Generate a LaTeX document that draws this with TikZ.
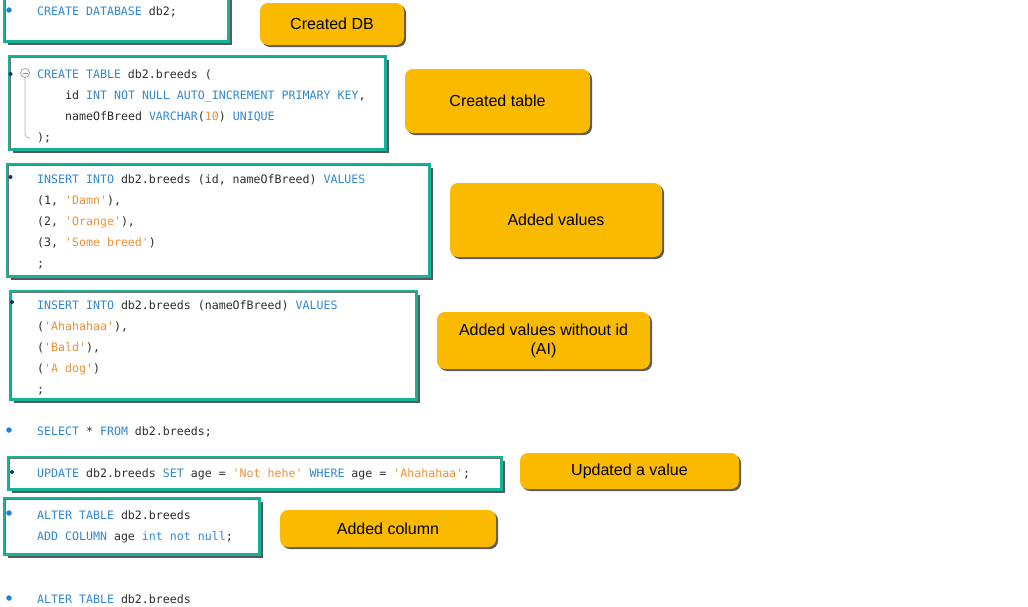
\documentclass[tikz,border=0pt]{standalone}
\usepackage{fontspec}
\setmainfont{Liberation Sans}
\newfontfamily\codefont[WordSpace={1,0,0},Ligatures=ResetAll]{DejaVu Sans Mono}
\usetikzlibrary{shadows}
\definecolor{tealbox}{RGB}{20,178,150}
\definecolor{ylw}{RGB}{249,186,0}
\definecolor{kw}{RGB}{50,136,206}
\definecolor{idf}{RGB}{45,45,45}
\definecolor{strc}{RGB}{236,146,52}
\definecolor{bul}{RGB}{30,130,220}
\definecolor{bulk}{RGB}{20,50,110}
\newcommand\kwd[1]{\textcolor{kw}{#1}}
\newcommand\strg[1]{\textcolor{strc}{#1}}
\tikzset{
  codebox/.style={draw=tealbox, line width=3pt, fill=white, inner sep=0pt,
    drop shadow={shadow xshift=3.3pt, shadow yshift=-3.3pt, fill=black!72, opacity=0.9}},
  innerline/.style={draw=black!55, line width=0.8pt},
  label/.style={fill=ylw, rounded corners=8pt, inner sep=0pt, align=center,
    font=\fontsize{16}{19}\selectfont, text=black,
    drop shadow={shadow xshift=2pt, shadow yshift=-2pt, fill=black!75, opacity=0.85}},
  code/.style={anchor=base west, inner sep=0pt, text=idf, font=\codefont\fontsize{11.6}{21}\selectfont},
  dotb/.style={fill=bul, circle, inner sep=0pt, minimum size=5.5pt},
  dotk/.style={fill=bulk, circle, inner sep=0pt, minimum size=4pt},
}
\begin{document}
\begin{tikzpicture}[x=1pt,y=-1pt]
\useasboundingbox[fill=white] (0,0) rectangle (1028,606);
% code boxes
\node[codebox, minimum width=224pt, minimum height=45pt] (b1) at (116.5,19) {};
\node[codebox, minimum width=376pt, minimum height=93pt] (b2) at (197.5,103) {};
\node[codebox, minimum width=422pt, minimum height=112pt] (b3) at (218.5,220.5) {};
\node[codebox, minimum width=406pt, minimum height=108pt] (b4) at (213.5,345.5) {};
\node[codebox, minimum width=493pt, minimum height=32pt] (b5) at (255,473.5) {};
\node[codebox, minimum width=255pt, minimum height=56pt] (b6) at (132,526.5) {};
\foreach \b in {b1,b2,b3,b4,b5,b6}{
  \draw[innerline] ([shift={(2.3pt,2.3pt)}]\b.south west) -- ([shift={(2.3pt,-2.3pt)}]\b.north west) -- ([shift={(-2.3pt,-2.3pt)}]\b.north east);
}
% bullets
\node[dotb] (d1) at (9,10) {};
\node[dotb] (d2) at (9,430) {};
\node[dotb] (d3) at (9,513) {};
\node[dotb] (d4) at (9,598) {};
\node[dotk] (k1) at (10.5,74) {};
\node[dotk] (k2) at (10.5,177) {};
\node[dotk] (k3) at (12,302) {};
\node[dotk] (k4) at (12,472) {};
% fold icon
\node[circle, draw=black!40, line width=0.7pt, minimum size=9pt, inner sep=0pt] (fold) at (25,73) {};
\draw[black!45, line width=0.7pt] ([xshift=-2.5pt]fold.center) -- ([xshift=2.5pt]fold.center);
\coordinate (foldend) at (30,138);
\draw[black!30, line width=0.8pt] (fold.south) -- (25,134) to[out=-90,in=180] (foldend);
% code text
\node[code] (c1) at (37,15) {\kwd{CREATE DATABASE} db2;};
\node[code] (c2) at (37,78) {\kwd{CREATE TABLE} db2.breeds (};
\node[code] (c3) at (65,99.5) {id \kwd{INT NOT NULL AUTO\_INCREMENT PRIMARY KEY},};
\node[code] (c4) at (65,120) {nameOfBreed \kwd{VARCHAR}(\strg{10}) \kwd{UNIQUE}};
\node[code] (c5) at (37,141) {);};
\node[code] (c6) at (37,183) {\kwd{INSERT INTO} db2.breeds (id, nameOfBreed) \kwd{VALUES}};
\node[code] (c7) at (37,204.5) {(1, \strg{'Damn'}),};
\node[code] (c8) at (37,225.5) {(2, \strg{'Orange'}),};
\node[code] (c9) at (37,246.5) {(3, \strg{'Some breed'})};
\node[code] (c10) at (37,267.5) {;};
\node[code] (c11) at (37,309) {\kwd{INSERT INTO} db2.breeds (nameOfBreed) \kwd{VALUES}};
\node[code] (c12) at (37,330) {(\strg{'Ahahahaa'}),};
\node[code] (c13) at (37,351) {(\strg{'Bald'}),};
\node[code] (c14) at (37,372.5) {(\strg{'A dog'})};
\node[code] (c15) at (37,393.5) {;};
\node[code] (c16) at (37,435) {\kwd{SELECT} * \kwd{FROM} db2.breeds;};
\node[code] (c17) at (37,477) {\kwd{UPDATE} db2.breeds \kwd{SET} age = \strg{'Not hehe'} \kwd{WHERE} age = \strg{'Ahahahaa'};};
\node[code] (c18) at (37,519) {\kwd{ALTER TABLE} db2.breeds};
\node[code] (c19) at (37,540) {\kwd{ADD COLUMN} age \kwd{int not null};};
\node[code] (c20) at (37,603) {\kwd{ALTER TABLE} db2.breeds};
% labels
\node[label, minimum width=144pt, minimum height=42pt] (y1) at (332,24) {Created DB};
\node[label, minimum width=185pt, minimum height=64pt] (y2) at (497.5,101) {Created table};
\node[label, minimum width=212pt, minimum height=74pt] (y3) at (556,220) {Added values};
\node[label, minimum width=213pt, minimum height=57pt] (y4) at (543.5,340.5) {Added values without id\\(AI)};
\node[label, minimum width=219pt, minimum height=36pt] (y5) at (629.5,471) {Updated a value};
\node[label, minimum width=216pt, minimum height=37pt] (y6) at (388,528.5) {Added column};
\end{tikzpicture}
\end{document}
